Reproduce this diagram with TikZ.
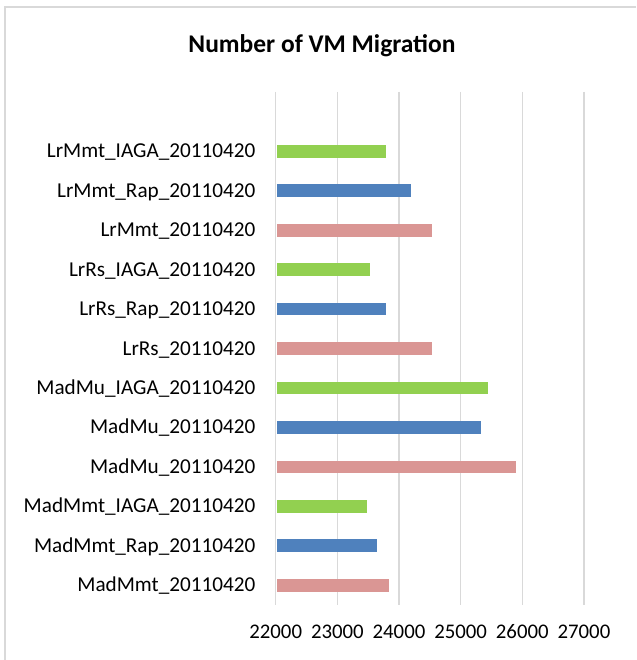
\documentclass[tikz,border=0pt]{standalone}
\usepackage{fontspec}
\setmainfont{Carlito}
\definecolor{barGreen}{HTML}{92D050}
\definecolor{barBlue}{HTML}{4F81BD}
\definecolor{barPink}{HTML}{DA9694}
\definecolor{gridGray}{HTML}{D9D9D9}

\begin{document}
\begin{tikzpicture}[x=1pt,y=-1pt,
    gridline/.style={gridGray, line width=1.5pt},
    rowlabel/.style={anchor=base east, inner sep=0pt, font=\fontsize{21.2pt}{25pt}\selectfont},
    ticklabel/.style={anchor=base, inner sep=0pt, font=\fontsize{20.8pt}{25pt}\selectfont}]
  \useasboundingbox (0,0) rectangle (636,660);

  % chart frame (runs off the right and bottom edges)
  \draw[gridGray, line width=1.5pt] (636,7) -- (5,7) -- (5,660);
  \node[anchor=base, inner sep=0pt, font=\bfseries\fontsize{25.5pt}{30pt}\selectfont] (title) at (322,52.5) {Number of VM Migration};

  % value axis: gridlines and tick labels
  \foreach \k in {0,...,5} {
    \pgfmathsetmacro{\gx}{275.7+61.65*\k}
    \draw[gridline] (\gx,92) -- (\gx,605);
    \pgfmathtruncatemacro{\tv}{22+\k}
    \node[ticklabel] (tick\k) at (\gx,638.5) {\tv000};
  }

  % bars, top to bottom (values in thousands)
  \foreach \lbl/\barcol/\val [count=\i] in {
      LrMmt\_IAGA\_20110420/barGreen/23.783,
      LrMmt\_Rap\_20110420/barBlue/24.199,
      LrMmt\_20110420/barPink/24.528,
      LrRs\_IAGA\_20110420/barGreen/23.523,
      LrRs\_Rap\_20110420/barBlue/23.792,
      LrRs\_20110420/barPink/24.528,
      MadMu\_IAGA\_20110420/barGreen/25.436,
      MadMu\_20110420/barBlue/25.327,
      MadMu\_20110420/barPink/25.890,
      MadMmt\_IAGA\_20110420/barGreen/23.475,
      MadMmt\_Rap\_20110420/barBlue/23.637,
      MadMmt\_20110420/barPink/23.831} {
    \pgfmathsetmacro{\yc}{151.3+39.45*(\i-1)}
    \pgfmathsetmacro{\xe}{275.7+61.65*(\val-22)}
    \fill[\barcol] (276.5,\yc-6.35) rectangle (\xe,\yc+6.35);
    \node[rowlabel] (lab\i) at (255.5,\yc+6.5) {\lbl};
  }
\end{tikzpicture}
\end{document}
